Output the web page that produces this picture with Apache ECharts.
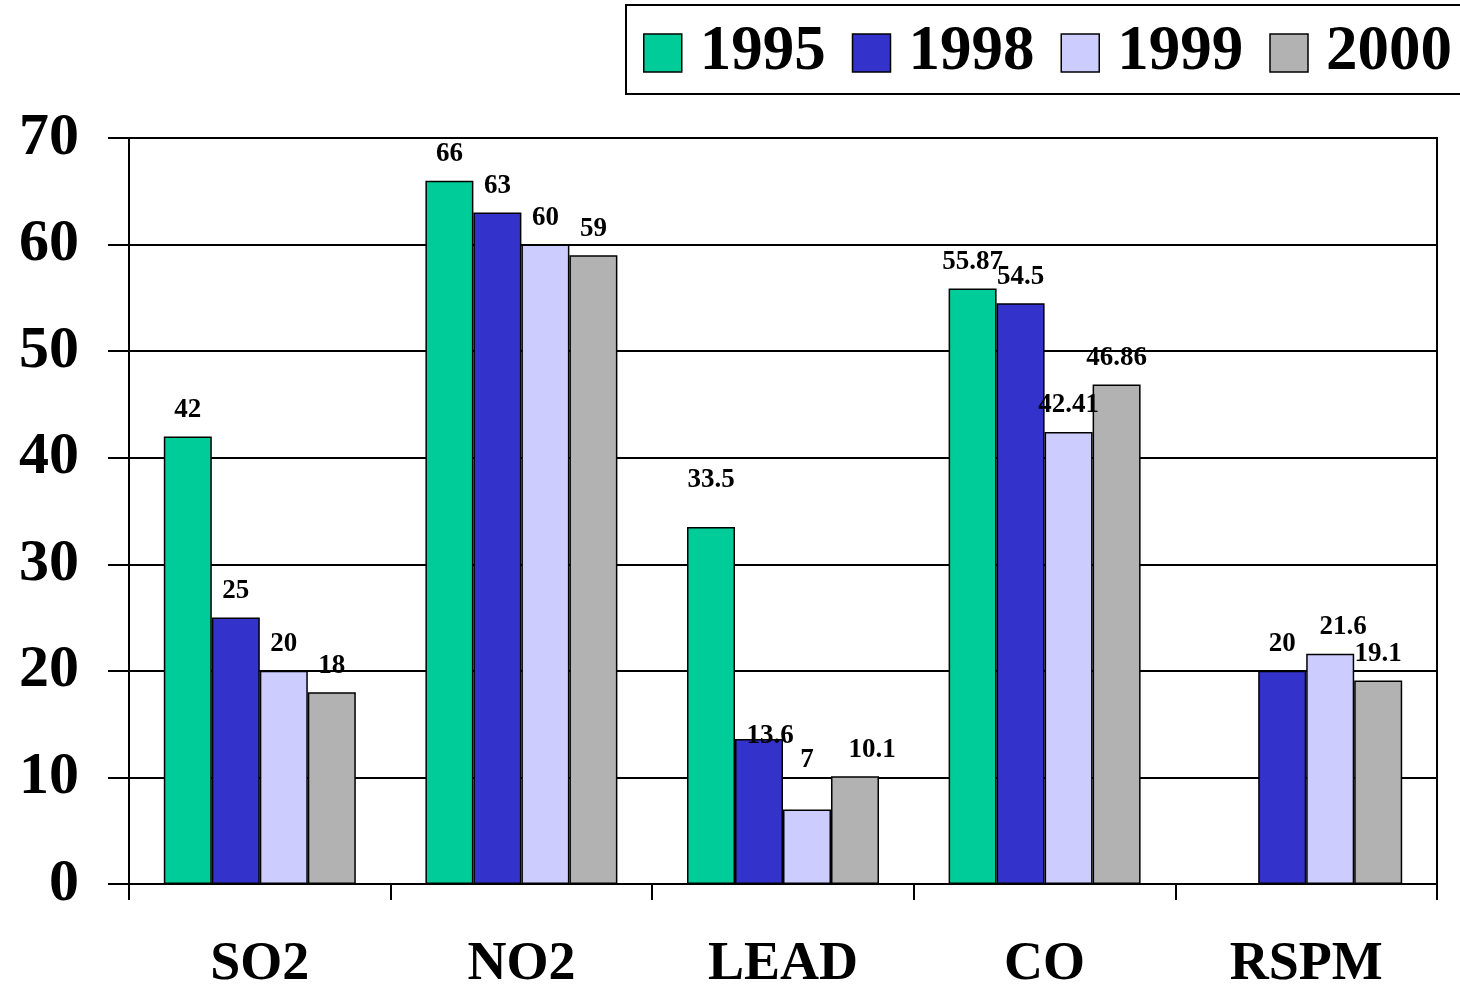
<!DOCTYPE html>
<html>
<head>
<meta charset="utf-8">
<title>Air pollutant levels</title>
<script src="https://cdn.jsdelivr.net/npm/echarts@6/dist/echarts.min.js"></script>
<style>
  html, body { margin: 0; padding: 0; background: #fff; }
  #chart { width: 1460px; height: 986px; }
</style>
</head>
<body>
<div id="chart"></div>
<script>
// Pollutant categories and yearly readings
const categories = ['SO2', 'NO2', 'LEAD', 'CO', 'RSPM'];
const years = ['1995', '1998', '1999', '2000'];
const values1995 = [42, 66, 33.5, 55.87, null];
const values1998 = [25, 63, 13.6, 54.5, 20];
const values1999 = [20, 60, 7, 42.41, 21.6];
const values2000 = [18, 59, 10.1, 46.86, 19.1];
const yTicks = [0, 10, 20, 30, 40, 50, 60, 70];

const seriesValues = [values1995, values1998, values1999, values2000];
const colors = ['#00CC99', '#3333CC', '#CCCCFF', '#B2B2B2'];
const FONT = '"Liberation Serif", "Times New Roman", serif';

// Hand-placed label nudges [dx, dy] for crowded spots, keyed "series-category"
const labelNudge = {
  '0-2': [0, -20],
  '1-2': [11, 23],
  '2-2': [0, -23],
  '3-2': [17, 0],
  '2-4': [13, 0]
};

const series = seriesValues.map((vals, si) => ({
  name: years[si],
  type: 'bar',
  barWidth: 48,
  barGap: '0%',
  itemStyle: { color: colors[si], borderColor: '#000', borderWidth: 1.5 },
  label: {
    show: true,
    position: 'top',
    distance: 13,
    fontFamily: FONT,
    fontWeight: 'bold',
    fontSize: 27,
    color: '#000'
  },
  data: vals.map((v, ci) => {
    const nudge = labelNudge[si + '-' + ci];
    if (v == null) return null;
    return nudge ? { value: v, label: { offset: nudge } } : v;
  })
}));

const chart = echarts.init(document.getElementById('chart'), null, { renderer: 'canvas' });
chart.setOption({
  animation: false,
  backgroundColor: '#fff',
  legend: {
    data: years,
    icon: 'rect',
    left: 626,
    top: 5,
    width: 830,
    orient: 'horizontal',
    itemWidth: 38,
    itemHeight: 38,
    itemGap: 26,
    padding: [7, 10, 0, 17],
    backgroundColor: '#fff',
    borderColor: '#000',
    borderWidth: 2,
    borderRadius: 0,
    itemStyle: { borderColor: '#000', borderWidth: 1.5 },
    textStyle: {
      fontFamily: FONT,
      fontWeight: 'bold',
      fontSize: 63,
      lineHeight: 62,
      color: '#000',
      padding: [20, 0, 0, 13]
    }
  },
  grid: {
    left: 129,
    right: 23,
    top: 138,
    bottom: 102,
    show: true,
    borderColor: '#000',
    borderWidth: 2,
    containLabel: false,
    outerBoundsMode: 'none'
  },
  xAxis: {
    type: 'category',
    data: categories,
    boundaryGap: true,
    axisLine: { show: true, lineStyle: { color: '#000', width: 2 } },
    axisTick: { show: true, length: 16, alignWithLabel: false, lineStyle: { color: '#000', width: 2 } },
    axisLabel: {
      margin: 54,
      fontFamily: FONT,
      fontWeight: 'bold',
      fontSize: 54,
      color: '#000'
    },
    splitLine: { show: false }
  },
  yAxis: {
    type: 'value',
    min: yTicks[0],
    max: yTicks[yTicks.length - 1],
    interval: yTicks[1] - yTicks[0],
    axisLine: { show: true, lineStyle: { color: '#000', width: 2 } },
    axisTick: { show: true, inside: false, length: 21, lineStyle: { color: '#000', width: 2 } },
    axisLabel: {
      margin: 50,
      fontFamily: FONT,
      fontWeight: 'bold',
      fontSize: 60,
      color: '#000'
    },
    splitLine: { show: true, lineStyle: { color: '#000', width: 2 } }
  },
  series: series
});
</script>
</body>
</html>
